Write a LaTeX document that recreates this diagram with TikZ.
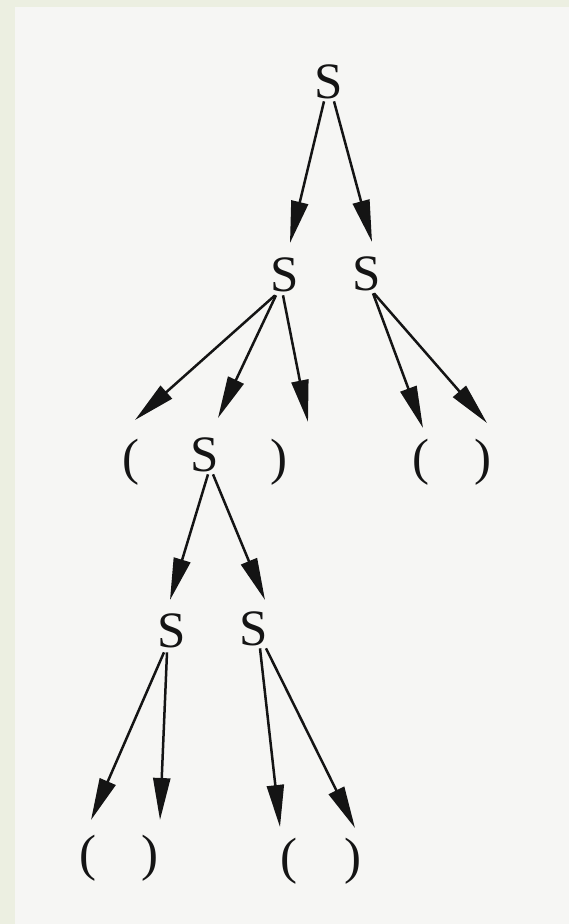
\documentclass[tikz,border=0pt]{standalone}
\usepackage{fontspec}
\setmainfont{Liberation Serif}
\usetikzlibrary{arrows.meta}
\definecolor{frame}{HTML}{ECEFE1}
\definecolor{paper}{HTML}{F6F6F4}
\definecolor{ink}{HTML}{141414}
\begin{document}
\begin{tikzpicture}[x=1pt,y=-1pt,
  sym/.style={inner sep=0pt, text=ink, font=\fontsize{51}{60}\selectfont},
  arr/.style={draw=ink, line width=2.5pt, -{Triangle[length=42pt,width=17pt]}}]
\fill[frame] (0,0) rectangle (569,924);
\fill[paper] (15,7) rectangle (569,924);
\useasboundingbox (0,0) rectangle (569,924);
% level 1
\node[sym] (s0) at (329,82) {S};
% level 2
\node[sym] (s1) at (285,275) {S};
\node[sym] (s2) at (367,274) {S};
% level 3
\node[sym] (l1) at (131,462) {(};
\node[sym] (s3) at (205,455) {S};
\node[sym] (r1) at (279,462) {)};
\node[sym] (l2) at (421,462) {(};
\node[sym] (r2) at (483,462) {)};
% level 4
\node[sym] (s4) at (172,631) {S};
\node[sym] (s5) at (254,629) {S};
% level 5
\node[sym] (l3) at (88,858) {(};
\node[sym] (r3) at (150,858) {)};
\node[sym] (l4) at (289,861) {(};
\node[sym] (r4) at (353,861) {)};
% arrow tips
\coordinate (t01) at (290,243);
\coordinate (t02) at (372,242);
\coordinate (t11) at (135,420);
\coordinate (t12) at (218,418);
\coordinate (t13) at (308,422);
\coordinate (t21) at (423,428);
\coordinate (t22) at (487,423);
\coordinate (t31) at (170,600);
\coordinate (t32) at (265,600);
\coordinate (t41) at (91,820);
\coordinate (t42) at (160,820);
\coordinate (t51) at (280,827);
\coordinate (t52) at (355,828);
% arrows
\draw[arr] ([xshift=-5pt,yshift=-2pt]s0.south) -- (t01);
\draw[arr] ([xshift=5pt,yshift=-2pt]s0.south) -- (t02);
\draw[arr] ([xshift=-10pt,yshift=-3pt]s1.south) -- (t11);
\draw[arr] ([xshift=-9pt,yshift=-3pt]s1.south) -- (t12);
\draw[arr] ([xshift=-2pt,yshift=-3pt]s1.south) -- (t13);
\draw[arr] ([xshift=6pt,yshift=-2pt]s2.south) -- (t21);
\draw[arr] ([xshift=7pt,yshift=-2pt]s2.south) -- (t22);
\draw[arr] ([xshift=3pt,yshift=-2pt]s3.south) -- (t31);
\draw[arr] ([xshift=8pt,yshift=-2pt]s3.south) -- (t32);
\draw[arr] ([xshift=-8pt,yshift=-4pt]s4.south) -- (t41);
\draw[arr] ([xshift=-5pt,yshift=-4pt]s4.south) -- (t42);
\draw[arr] ([xshift=6pt,yshift=-2pt]s5.south) -- (t51);
\draw[arr] ([xshift=12pt,yshift=-2pt]s5.south) -- (t52);
\end{tikzpicture}
\end{document}
